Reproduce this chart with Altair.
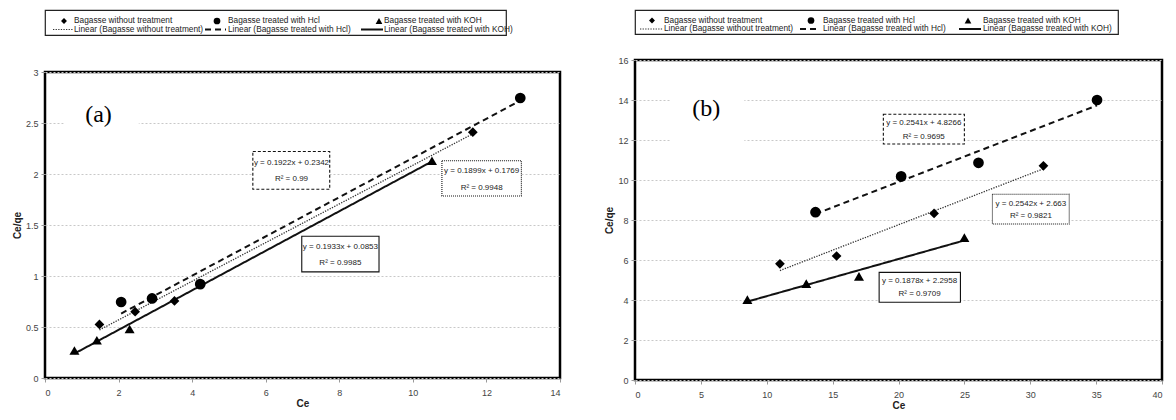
import altair as alt
import pandas as pd

FONT = "Liberation Sans, Arial, sans-serif"

SERIES = ["Bagasse without treatment", "Bagasse treated with Hcl", "Bagasse treated with KOH"]
LINEAR = ["Linear (Bagasse without treatment)", "Linear (Bagasse treated with Hcl)",
          "Linear (Bagasse treated with KOH)"]

# ---------------- panel (a) data ----------------
a_without_x = [1.48, 2.45, 2.91, 3.52, 11.63]
a_without_y = [0.525, 0.65, 0.78, 0.755, 2.41]
a_hcl_x = [2.07, 2.91, 4.22, 12.92]
a_hcl_y = [0.745, 0.78, 0.92, 2.745]
a_koh_x = [0.80, 1.41, 2.30, 10.52]
a_koh_y = [0.27, 0.37, 0.48, 2.13]

# ---------------- panel (b) data ----------------
b_without_x = [11.0, 15.3, 22.7, 31.0]
b_without_y = [5.81, 6.2, 8.33, 10.71]
b_hcl_x = [13.7, 20.2, 26.07, 35.07]
b_hcl_y = [8.39, 10.18, 10.86, 14.0]
b_koh_x = [8.53, 13.0, 17.0, 25.0]
b_koh_y = [4.02, 4.82, 5.18, 7.12]

# axis ticks
a_xticks = [0, 2, 4, 6, 8, 10, 12, 14]
a_yticks = [0, 0.5, 1, 1.5, 2, 2.5, 3]
b_xticks = [0, 5, 10, 15, 20, 25, 30, 35, 40]
b_yticks = [0, 2, 4, 6, 8, 10, 12, 14, 16]

# trendline equation annotations (order: without, Hcl, KOH)
a_eq = ["y = 0.1899x + 0.1769", "y = 0.1922x + 0.2342", "y = 0.1933x + 0.0853"]
a_r2 = ["R² = 0.9948", "R² = 0.99", "R² = 0.9985"]
a_box_x1 = [10.79, 5.65, 6.98]
a_box_x2 = [12.95, 7.74, 9.08]
a_box_y1 = [1.785, 1.85, 1.04]
a_box_y2 = [2.13, 2.22, 1.39]
a_txt_x = [11.87, 6.70, 8.03]
a_txt_y1 = [2.03, 2.11, 1.285]
a_txt_y2 = [1.86, 1.95, 1.13]

b_eq = ["y = 0.2542x + 2.663", "y = 0.2541x + 4.8266", "y = 0.1878x + 2.2958"]
b_r2 = ["R² = 0.9821", "R² = 0.9695", "R² = 0.9709"]
b_box_x1 = [27.13, 18.85, 18.53]
b_box_x2 = [32.96, 25.0, 24.7]
b_box_y1 = [7.80, 11.8, 3.89]
b_box_y2 = [9.29, 13.29, 5.38]
b_txt_x = [30.05, 21.92, 21.6]
b_txt_y1 = [8.79, 12.85, 4.93]
b_txt_y2 = [8.19, 12.16, 4.30]

# panel tags
a_tag = ["(a)"]
a_tag_x = [1.455]
a_tag_y = [2.58]
a_tag_bg = [0.51, 2.55, 2.35, 2.78]
b_tag = ["(b)"]
b_tag_x = [5.4]
b_tag_y = [13.54]
b_tag_bg = [2.71, 8.3, 11.7, 14.4]

# legend layout (relative positions inside the legend box)
a_leg = dict(w=461, h=25, rows=[11.0, 19.5], sym_x=[19, 172, 334], txt_x=[29, 183, 339],
             l1=[8, 160, 316], l2=[28, 181, 338])
b_leg = dict(w=483, h=24, rows=[10.5, 19.0], sym_x=[17, 176, 333], txt_x=[29, 188, 348],
             l1=[5, 165, 324], l2=[28, 185, 346])

# styles
SHAPES = ["diamond", "circle", "triangle-up"]
SIZES = [95, 115, 100]
LEG_SIZES = [35, 45, 45]
LINE_DASH = [[1.3, 1.3], [6, 4], [1, 0]]
LINE_W = [1.3, 2.0, 2.0]
LINE_C = ["#333333", "#111111", "#111111"]
BOX_DASH = [[1, 1], [3, 2], [1, 0]]
TXT = 8
LEG_TXT = 8.3


def points_df(xs_list, ys_list):
    rows = []
    for s, xs, ys in zip(SERIES, xs_list, ys_list):
        rows += [{"series": s, "Ce": x, "ratio": y} for x, y in zip(xs, ys)]
    return pd.DataFrame(rows)


def panel(df, xdom, xvals, ydom, yvals, w, h, bx1, bx2, by1, by2, tx, ty1, ty2, eq, r2,
          tag, tagx, tagy, tagbg):
    def X(f):
        return alt.X(f"{f}:Q", scale=alt.Scale(domain=xdom, nice=False, zero=False),
                     axis=alt.Axis(values=xvals, title="Ce", format="~g"))

    def Y(f):
        return alt.Y(f"{f}:Q", scale=alt.Scale(domain=ydom, nice=False, zero=False),
                     axis=alt.Axis(values=yvals, title="Ce/qe", format="~g"))

    layers = []
    tagdf = pd.DataFrame({"x1": [tagbg[0]], "x2": [tagbg[1]], "y1": [tagbg[2]], "y2": [tagbg[3]],
                          "tx": tagx, "ty": tagy, "t": tag})
    layers.append(alt.Chart(tagdf).mark_rect(fill="white").encode(
        x=X("x1"), x2="x2", y=Y("y1"), y2="y2"))
    for i, s in enumerate(SERIES):
        layers.append(alt.Chart(df).transform_filter(alt.datum.series == s)
                      .transform_regression("Ce", "ratio")
                      .mark_line(color=LINE_C[i], strokeDash=LINE_DASH[i], strokeWidth=LINE_W[i])
                      .encode(x=X("Ce"), y=Y("ratio")))
    for i, s in enumerate(SERIES):
        layers.append(alt.Chart(df).transform_filter(alt.datum.series == s)
                      .mark_point(shape=SHAPES[i], filled=True, size=SIZES[i], color="black", opacity=1)
                      .encode(x=X("Ce"), y=Y("ratio")))
    bdf = pd.DataFrame({"series": SERIES, "x1": bx1, "x2": bx2, "y1": by1, "y2": by2,
                        "tx": tx, "ty1": ty1, "ty2": ty2, "eq": eq, "r2": r2})
    for i, s in enumerate(SERIES):
        layers.append(alt.Chart(bdf).transform_filter(alt.datum.series == s)
                      .mark_rect(fill="white", stroke="#111", strokeWidth=1.1, strokeDash=BOX_DASH[i])
                      .encode(x=X("x1"), x2="x2", y=Y("y1"), y2="y2"))
    layers.append(alt.Chart(bdf).mark_text(font=FONT, fontSize=TXT, color="#222", baseline="middle")
                  .encode(x=X("tx"), y=Y("ty1"), text="eq:N"))
    layers.append(alt.Chart(bdf).mark_text(font=FONT, fontSize=TXT, color="#222", baseline="middle")
                  .encode(x=X("tx"), y=Y("ty2"), text="r2:N"))
    layers.append(alt.Chart(tagdf).mark_text(font="Liberation Serif, Times New Roman, serif",
                                             fontSize=24, color="black", baseline="middle")
                  .encode(x=X("tx"), y=Y("ty"), text="t:N"))
    return alt.layer(*layers).properties(
        width=w, height=h, view=alt.ViewBackground(stroke="black", strokeWidth=2.5))


def legend(cfg):
    W, H = cfg["w"], cfg["h"]
    xs = alt.Scale(domain=[0, W], nice=False, zero=False)
    ys = alt.Scale(domain=[0, H], nice=False, zero=False, reverse=True)
    df = pd.DataFrame({"series": SERIES, "linear": LINEAR, "sx": cfg["sym_x"], "tx": cfg["txt_x"],
                       "l1": cfg["l1"], "l2": cfg["l2"],
                       "r1": [cfg["rows"][0]] * 3, "r2": [cfg["rows"][1]] * 3})
    layers = []
    for i, s in enumerate(SERIES):
        sub = alt.Chart(df).transform_filter(alt.datum.series == s)
        layers.append(sub.mark_point(shape=SHAPES[i], filled=True, size=LEG_SIZES[i], color="black",
                                     opacity=1)
                      .encode(x=alt.X("sx:Q", scale=xs, axis=None), y=alt.Y("r1:Q", scale=ys, axis=None)))
        layers.append(sub.mark_rule(color=LINE_C[i], strokeDash=LINE_DASH[i], strokeWidth=LINE_W[i] * 0.9)
                      .encode(x=alt.X("l1:Q", scale=xs, axis=None), x2="l2",
                              y=alt.Y("r2:Q", scale=ys, axis=None)))
    layers.append(alt.Chart(df).mark_text(font=FONT, fontSize=LEG_TXT, color="#222", align="left",
                                          baseline="middle")
                  .encode(x=alt.X("tx:Q", scale=xs, axis=None), y=alt.Y("r1:Q", scale=ys, axis=None),
                          text="series:N"))
    layers.append(alt.Chart(df).mark_text(font=FONT, fontSize=LEG_TXT, color="#222", align="left",
                                          baseline="middle")
                  .encode(x=alt.X("tx:Q", scale=xs, axis=None), y=alt.Y("r2:Q", scale=ys, axis=None),
                          text="linear:N"))
    return alt.layer(*layers).properties(
        width=W, height=H, view=alt.ViewBackground(stroke="#222", strokeWidth=1.2))


dfa = points_df([a_without_x, a_hcl_x, a_koh_x], [a_without_y, a_hcl_y, a_koh_y])
dfb = points_df([b_without_x, b_hcl_x, b_koh_x], [b_without_y, b_hcl_y, b_koh_y])

pa = panel(dfa, [0, 14], a_xticks, [0, 3], a_yticks, 515, 306,
           a_box_x1, a_box_x2, a_box_y1, a_box_y2, a_txt_x, a_txt_y1, a_txt_y2, a_eq, a_r2,
           a_tag, a_tag_x, a_tag_y, a_tag_bg)
pb = panel(dfb, [0, 40], b_xticks, [0, 16], b_yticks, 527, 320,
           b_box_x1, b_box_x2, b_box_y1, b_box_y2, b_txt_x, b_txt_y1, b_txt_y2, b_eq, b_r2,
           b_tag, b_tag_x, b_tag_y, b_tag_bg)

left = alt.VConcatChart(vconcat=[legend(a_leg), pa], spacing=37, bounds="flush")
right = alt.VConcatChart(vconcat=[legend(b_leg), pb], spacing=26, bounds="flush")

chart = alt.hconcat(left, right, spacing=41).properties(
    padding={"left": 3, "top": 1, "right": 0, "bottom": 0}, background="white"
).configure_axis(
    labelFont=FONT, labelFontSize=9, labelColor="#444", tickColor="#999", tickSize=4,
    domain=False, titleFont=FONT, titleFontSize=10, titleFontWeight="bold", titleColor="#222",
    gridColor="#c8c8c8", gridDash=[2, 2], gridWidth=1
).configure_axisX(
    grid=False, labelPadding=6, titlePadding=1
).configure_axisY(
    grid=True, labelPadding=3, titlePadding=3
)

chart.save("out.html", embed_options={"renderer": "svg", "actions": False})
